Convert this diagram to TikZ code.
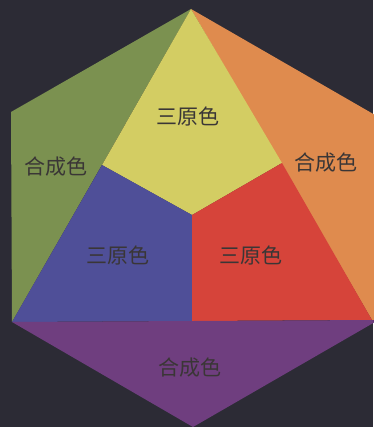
\documentclass[tikz,border=0pt]{standalone}
\usepackage{fontspec}
\newfontfamily\cjk{Noto Sans CJK SC}
\definecolor{bg}{HTML}{2C2B35}
\definecolor{cgreen}{HTML}{7B9150}
\definecolor{cyellow}{HTML}{D3CD63}
\definecolor{corange}{HTML}{DF8B4E}
\definecolor{cblue}{HTML}{4F4F98}
\definecolor{cred}{HTML}{D6443A}
\definecolor{cpurple}{HTML}{6F3E7F}
\definecolor{ctext}{HTML}{3A3636}
\begin{document}
\begin{tikzpicture}[x=1pt,y=-1pt,
  lbl/.style={font=\cjk\fontsize{21}{21}\selectfont, text=ctext, inner sep=0pt}]
\fill[bg] (0,0) rectangle (373,427);
\useasboundingbox (0,0) rectangle (373,427);
\coordinate (T) at (191,9);
\coordinate (UL) at (11,112);
\coordinate (LL) at (12,322);
\coordinate (B) at (193,427);
\coordinate (LR) at (372,320);
\coordinate (UR) at (375,115);
\coordinate (ML) at (102,165);
\coordinate (MR) at (282,163);
\coordinate (MB) at (192,321);
\coordinate (C) at (192,215);
\fill[cgreen] (T) -- (UL) -- (LL) -- cycle;
\fill[corange] (T) -- (UR) -- (375,320) -- (LR) -- cycle;
\fill[cyellow] (T) -- (ML) -- (C) -- (MR) -- cycle;
\fill[cblue] (ML) -- (C) -- (MB) -- (LL) -- cycle;
\fill[cred] (MR) -- (C) -- (MB) -- (LR) -- cycle;
\fill[cpurple] (LL) -- (375,320) -- (375,322) -- (B) -- cycle;
\node[lbl] (ty) at (188,116) {三原色};
\node[lbl] (tg) at (56,167) {合成色};
\node[lbl] (to) at (326,163) {合成色};
\node[lbl] (tb) at (118,255) {三原色};
\node[lbl] (tr) at (251,255) {三原色};
\node[lbl] (tp) at (190,368) {合成色};
\end{tikzpicture}
\end{document}
